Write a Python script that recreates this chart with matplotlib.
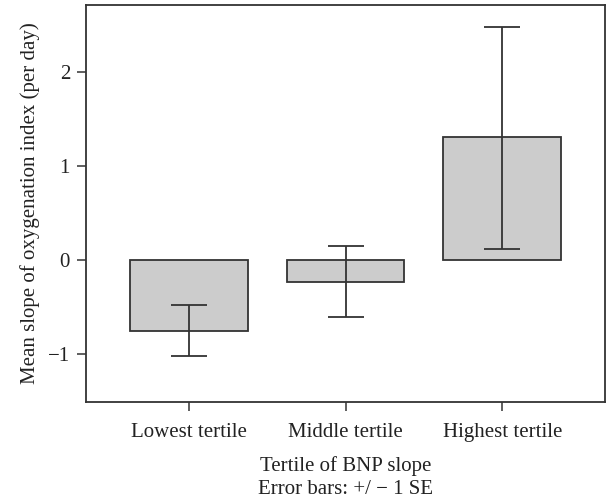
import numpy as np
import matplotlib
matplotlib.use("Agg")
import matplotlib.pyplot as plt

categories = ["Lowest tertile", "Middle tertile", "Highest tertile"]
means = [-0.75, -0.23, 1.31]
err_low = [-1.02, -0.61, 0.12]
err_high = [-0.48, 0.15, 2.48]

plt.rcParams["font.family"] = ["Liberation Serif", "DejaVu Serif"]
ink = "#333333"
txt = "#222222"
fs = 15

fig = plt.figure(figsize=(6.08, 5.0), dpi=100)
ax = fig.add_axes([86/608, 98/500, (605-86)/608, (402-5)/500])

x = np.arange(len(categories))
m = np.array(means)
yerr = [m - np.array(err_low), np.array(err_high) - m]
ax.bar(x, m, width=0.75, color="#cccccc", edgecolor=ink, linewidth=1.3, zorder=2)
ax.errorbar(x, m, yerr=yerr, fmt="none", ecolor=ink, elinewidth=1.3,
            capsize=13, capthick=1.3, zorder=3)

ax.set_xlim(-0.655, 2.655)
ax.set_ylim(-1.51, 2.71)
ax.set_xticks(x)
ax.set_xticklabels(categories)
ax.set_yticks([-1, 0, 1, 2])
ax.set_yticklabels(["\u22121", "0", "1", "2"])
for s in ax.spines.values():
    s.set_color(ink); s.set_linewidth(1.3)
ax.tick_params(colors=ink, labelcolor=txt, labelsize=fs, length=6.5, width=1.1, pad=5)
ax.tick_params(axis="x", pad=8.5)
ax.set_xlabel("Tertile of BNP slope\nError bars: +/ \u2212 1 SE", fontsize=fs,
              color=txt, linespacing=1.32, labelpad=10)
ax.set_ylabel("Mean slope of oxygenation index (per day)", fontsize=fs, color=txt, labelpad=6)

fig.savefig("out.png", dpi=100)
